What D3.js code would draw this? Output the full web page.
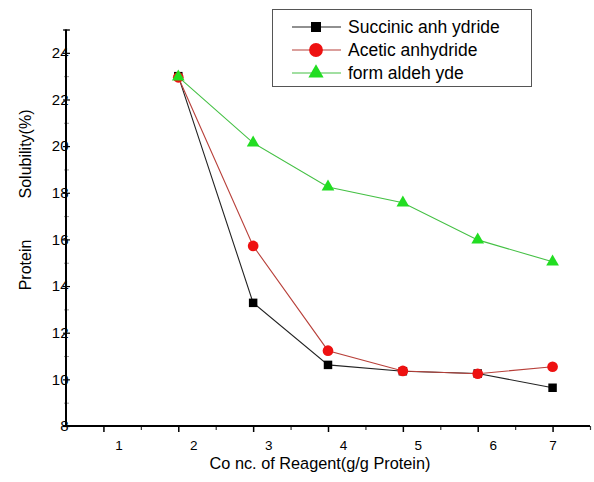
<!DOCTYPE html>
<html><head><meta charset="utf-8">
<script src="https://cdn.jsdelivr.net/npm/d3@7/dist/d3.min.js"></script>
<style>body{margin:0;background:#fff}svg{display:block}text{font-family:"Liberation Sans",Arial,sans-serif}</style>
</head><body><svg id="c" width="594" height="482"></svg>
<script>
const xValues = [2, 3, 4, 5, 6, 7];
const succinic = [23.0, 13.28, 10.62, 10.35, 10.25, 9.64];
const acetic = [22.95, 15.72, 11.23, 10.36, 10.24, 10.54];
const formaldehyde = [22.97, 20.14, 18.25, 17.57, 15.98, 15.04];
const seriesNames = ["Succinic anh ydride", "Acetic anhydride", "form aldeh yde"];
const xTicks = [1, 2, 3, 4, 5, 6, 7];
const yTicks = [8, 10, 12, 14, 16, 18, 20, 22, 24];
const xTitle = "Co nc. of Reagent(g/g Protein)";
const yTitle1 = "Solubility(%)";
const yTitle2 = "Protein";

const svg = d3.select("#c");
const x = d3.scaleLinear().domain([0.5, 7.5]).range([66, 590]);
const y = d3.scaleLinear().domain([8, 25]).range([426, 29.5]);

const series = [
  {name: seriesNames[0], vals: succinic, line: "#222", fill: "#000", shape: d3.symbolSquare, size: 72, lsize: 100},
  {name: seriesNames[1], vals: acetic, line: "#b8403a", fill: "#ee1111", shape: d3.symbolCircle, size: 90, lsize: 150},
  {name: seriesNames[2], vals: formaldehyde, line: "#44c044", fill: "#22dd22", shape: d3.symbolTriangle, size: 70, lsize: 100}
];

// Y axis
const yMinor = d3.range(9, 26, 2);
svg.append("g").attr("transform","translate(66,0)")
  .call(d3.axisLeft(y).tickValues(yMinor).tickSize(-3).tickFormat(""))
  .call(g=>{g.select(".domain").remove(); g.selectAll("line").attr("stroke","#999").attr("x1",-2);});
const ya = svg.append("g").attr("transform","translate(66,0)")
  .call(d3.axisLeft(y).tickValues(yTicks.concat([25])).tickSize(-4).tickFormat(d=> d===25?"":d));
ya.select(".domain").attr("stroke","#000").attr("stroke-width",2).attr("d","M0,"+y(25)+"V"+y(8));
ya.selectAll("line").attr("stroke","#000").attr("stroke-width",1.2).attr("x1",-3);
ya.selectAll("text").attr("x",2.5).attr("font-size",15).attr("fill","#000")
  .attr("font-family","Liberation Sans, Arial, sans-serif");

// X axis
const xMinor = d3.range(1.5, 7.6, 1);
svg.append("g").attr("transform","translate(0,426)")
  .call(d3.axisBottom(x).tickValues(xMinor).tickSize(4).tickFormat(""))
  .call(g=>{g.select(".domain").remove(); g.selectAll("line").attr("stroke","#333").attr("stroke-width",1.2);});
const xa = svg.append("g").attr("transform","translate(0,426)")
  .call(d3.axisBottom(x).tickValues(xTicks).tickSize(6).tickFormat(d3.format("d")));
xa.select(".domain").attr("stroke","#000").attr("stroke-width",2).attr("d","M66,0H590");
xa.selectAll("line").attr("stroke","#000").attr("stroke-width",1.5);
xa.selectAll("text").attr("font-size",13.5).attr("fill","#000").attr("y",14)
  .attr("font-family","Liberation Sans, Arial, sans-serif")
  .attr("dx",(d,i)=> i < xTicks.length-1 ? 15 : 0);

// Titles
svg.append("text").attr("x",320).attr("y",469).attr("text-anchor","middle").attr("font-size",16.3).text(xTitle);
svg.append("text").attr("transform","translate(31,154) rotate(-90)").attr("text-anchor","middle").attr("font-size",16).text(yTitle1);
svg.append("text").attr("transform","translate(31,265) rotate(-90)").attr("text-anchor","middle").attr("font-size",16).text(yTitle2);

// Lines & markers
const line = d3.line().x((d,i)=>x(xValues[i])).y(d=>y(d));
series.forEach(s=>{
  svg.append("path").attr("d",line(s.vals)).attr("fill","none").attr("stroke",s.line).attr("stroke-width",1.1);
});
series.forEach(s=>{
  svg.selectAll(null).data(s.vals).enter().append("path")
    .attr("d",d3.symbol().type(s.shape).size(s.size))
    .attr("transform",(d,i)=>`translate(${x(xValues[i])},${y(d)})`)
    .attr("fill",s.fill);
});

// Legend
const lg = svg.append("g");
lg.append("rect").attr("x",272.5).attr("y",9.5).attr("width",259).attr("height",77).attr("fill","#fff").attr("stroke","#555").attr("stroke-width",1);
series.forEach((s,i)=>{
  const yy = 27 + i*23;
  lg.append("line").attr("x1",292).attr("x2",341).attr("y1",yy).attr("y2",yy).attr("stroke",s.line).attr("stroke-width",1.1);
  lg.append("path").attr("d",d3.symbol().type(s.shape).size(s.lsize)).attr("transform",`translate(316,${yy})`).attr("fill",s.fill);
  lg.append("text").attr("x",348).attr("y",yy).attr("dy","0.35em").attr("font-size",17.5).text(s.name);
});
</script></body></html>
